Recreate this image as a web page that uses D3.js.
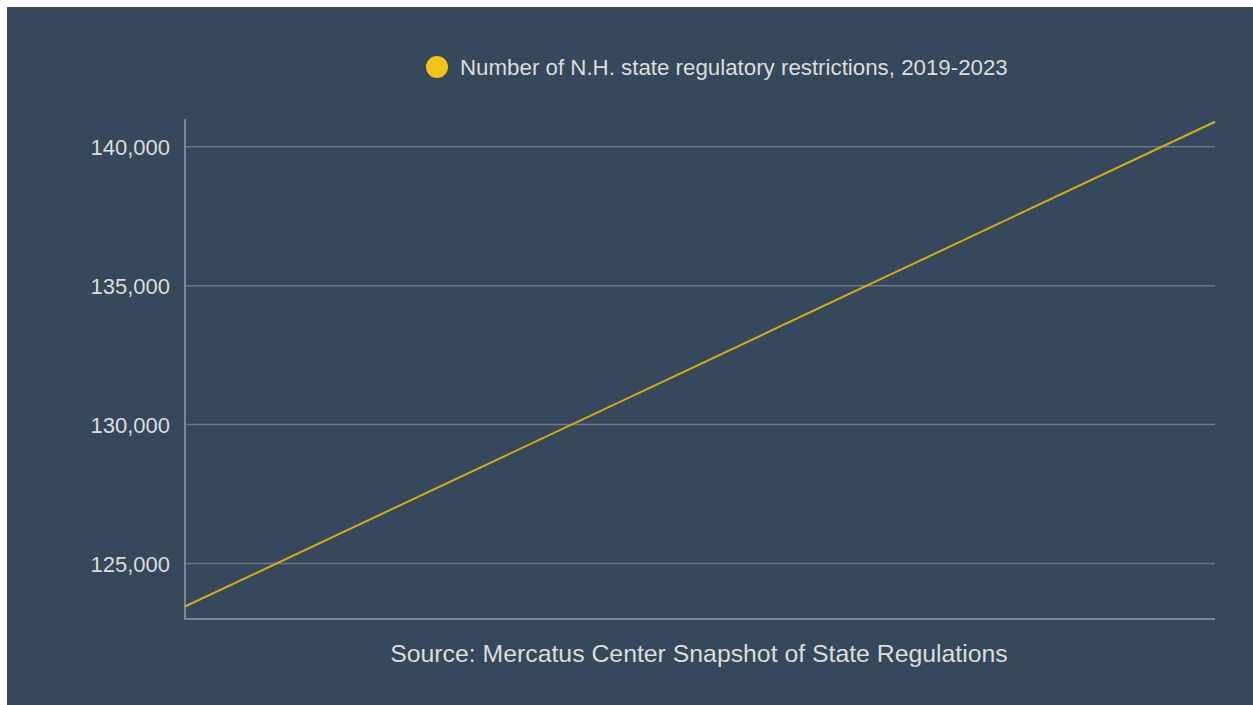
<!DOCTYPE html>
<html>
<head>
<meta charset="utf-8">
<script src="https://cdn.jsdelivr.net/npm/d3@7"></script>
<style>
  html, body { margin: 0; padding: 0; background: #ffffff; }
  svg { display: block; }
  text { font-family: "Liberation Sans", Arial, sans-serif; }
</style>
</head>
<body>
<div id="chart"></div>
<script>
// Data
const years = [2019, 2023]
const restrictions = [123450, 140900]
const yTicks = [125000, 130000, 135000, 140000]
const seriesLabel = 'Number of N.H. state regulatory restrictions, 2019-2023'
const sourceLabel = 'Source: Mercatus Center Snapshot of State Regulations'

const dataset = years.map((y, i) => ({ year: y, value: restrictions[i] }))

// Dimensions
let dimensions = {
  width: 1253,
  height: 705,
  margin: { top: 119, bottom: 86, left: 185, right: 38 }
}
dimensions.ctrWidth = dimensions.width - dimensions.margin.left - dimensions.margin.right
dimensions.ctrHeight = dimensions.height - dimensions.margin.top - dimensions.margin.bottom

const svg = d3.select('#chart')
  .append('svg')
  .attr('width', dimensions.width)
  .attr('height', dimensions.height)

// background panel
svg.append('rect')
  .attr('x', 7)
  .attr('y', 7)
  .attr('width', dimensions.width - 7)
  .attr('height', dimensions.height - 7)
  .attr('fill', '#36485b')

const ctr = svg.append('g')
  .attr('transform', `translate(${dimensions.margin.left}, ${dimensions.margin.top})`)

// Scales
const xScale = d3.scaleLinear()
  .domain(d3.extent(years))
  .range([0, dimensions.ctrWidth])

const yScale = d3.scaleLinear()
  .domain([123000, 141000])
  .range([dimensions.ctrHeight, 0])

// Gridlines
ctr.append('g')
  .selectAll('line')
  .data(yTicks)
  .join('line')
  .attr('x1', 0)
  .attr('x2', dimensions.ctrWidth)
  .attr('y1', d => yScale(d))
  .attr('y2', d => yScale(d))
  .attr('stroke', '#6b7886')
  .attr('stroke-width', 1.5)

// Y axis
const yAxis = d3.axisLeft(yScale)
  .tickValues(yTicks)
  .tickFormat(d3.format(','))
  .tickSize(0)
  .tickPadding(15)

const yAxisGroup = ctr.append('g').call(yAxis)
yAxisGroup.select('.domain').remove()
yAxisGroup.selectAll('text')
  .attr('fill', '#dcdcdc')
  .style('font-size', '22px')
  .attr('dy', '0.35em')

// Axis lines
ctr.append('line')
  .attr('x1', 0).attr('x2', 0)
  .attr('y1', 0).attr('y2', dimensions.ctrHeight)
  .attr('stroke', '#7d8893')
  .attr('stroke-width', 2)

ctr.append('line')
  .attr('x1', -1).attr('x2', dimensions.ctrWidth)
  .attr('y1', dimensions.ctrHeight).attr('y2', dimensions.ctrHeight)
  .attr('stroke', '#7d8893')
  .attr('stroke-width', 2)

// Line
const lineGen = d3.line()
  .x(d => xScale(d.year))
  .y(d => yScale(d.value))

ctr.append('path')
  .datum(dataset)
  .attr('d', lineGen)
  .attr('fill', 'none')
  .attr('stroke', '#d4aa16')
  .attr('stroke-width', 2)

// Legend
const legend = svg.append('g')
  .attr('transform', 'translate(437, 67)')

legend.append('circle')
  .attr('r', 11)
  .attr('fill', '#f2c318')

legend.append('text')
  .attr('x', 23)
  .attr('y', 0)
  .attr('dy', '0.35em')
  .attr('fill', '#dcdcdc')
  .style('font-size', '22.3px')
  .text(seriesLabel)

// Source
svg.append('text')
  .attr('x', 699)
  .attr('y', 653)
  .attr('dy', '0.35em')
  .attr('text-anchor', 'middle')
  .attr('fill', '#dcdcdc')
  .style('font-size', '24.8px')
  .text(sourceLabel)
</script>
</body>
</html>
